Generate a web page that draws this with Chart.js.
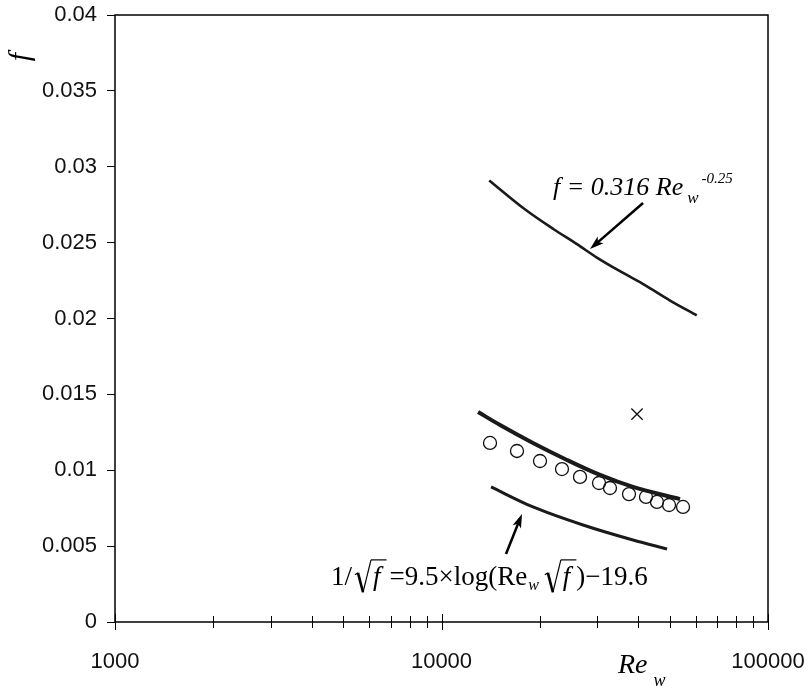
<!DOCTYPE html>
<html>
<head>
<meta charset="utf-8">
<script src="https://cdn.jsdelivr.net/npm/chart.js@4/dist/chart.umd.min.js"></script>
<style>
  html, body { margin: 0; padding: 0; background: #fff; }
  #wrap { width: 811px; height: 688px; }
</style>
</head>
<body>
<div id="wrap"><canvas id="frictionChart" width="811" height="688"></canvas></div>
<script>
// f = 0.316 Re^-0.25 line
const reBlasius = [14000, 18000, 22000, 26000, 30000, 36000, 42000, 50000, 60500];
const fBlasius = [0.0291, 0.0272, 0.0259, 0.0249, 0.0240, 0.0230, 0.0222, 0.0212, 0.0202];

// thick line through the circles
const reModel = [12940, 15110, 19060, 24230, 30590, 38600, 53770];
const fModel = [0.01384, 0.01298, 0.0118, 0.01068, 0.00969, 0.0089, 0.0081];

// 1/sqrt(f) = 9.5 log(Re sqrt(f)) - 19.6
const reLog = [14180, 19060, 27130, 38600, 49070];
const fLog = [0.0089, 0.00758, 0.00639, 0.0054, 0.00481];

// measured points (circles)
const reMeasured = [14080, 17030, 20030, 23390, 26560, 30370, 32810, 37520, 42290, 45710, 49760, 54920];
const fMeasured = [0.0118, 0.01127, 0.01061, 0.01008, 0.00956, 0.00916, 0.00883, 0.00843, 0.00824, 0.00791, 0.00771, 0.00758];

// single cross
const reCross = [39700];
const fCross = [0.0137];

const xLabelValues = [1000, 10000, 100000];
const yMin = 0, yMax = 0.04, yStep = 0.005;

const pts = (xs, ys) => xs.map((x, i) => ({ x: x, y: ys[i] }));

const SERIF = '"Liberation Serif", "DejaVu Serif", serif';
const SANS = '"Liberation Sans", Arial, sans-serif';

function arrow(ctx, x1, y1, x2, y2) {
    const a = Math.atan2(y2 - y1, x2 - x1);
    const len = 14, w = 4.5;
    ctx.beginPath();
    ctx.moveTo(x1, y1);
    ctx.lineTo(x2 - Math.cos(a) * len * 0.7, y2 - Math.sin(a) * len * 0.7);
    ctx.lineWidth = 2.5;
    ctx.stroke();
    ctx.beginPath();
    ctx.moveTo(x2, y2);
    ctx.lineTo(x2 - Math.cos(a) * len + Math.sin(a) * w, y2 - Math.sin(a) * len - Math.cos(a) * w);
    ctx.lineTo(x2 - Math.cos(a) * len * 0.75, y2 - Math.sin(a) * len * 0.75);
    ctx.lineTo(x2 - Math.cos(a) * len - Math.sin(a) * w, y2 - Math.sin(a) * len + Math.cos(a) * w);
    ctx.closePath();
    ctx.fill();
}

// draws a radical over italic f, returns the new x
function sqrtF(ctx, x, base, size) {
    const top = base - size * 0.93;
    const bot = base + size * 0.27;
    ctx.lineJoin = 'miter';
    ctx.beginPath();
    ctx.moveTo(x + 1, base - size * 0.38);
    ctx.lineTo(x + 4, base - size * 0.45);
    ctx.lineWidth = 1.2;
    ctx.stroke();
    ctx.beginPath();
    ctx.moveTo(x + 4, base - size * 0.45);
    ctx.lineTo(x + 9, bot);
    ctx.lineWidth = 2.6;
    ctx.stroke();
    ctx.beginPath();
    ctx.moveTo(x + 9, bot);
    ctx.lineTo(x + 17, top);
    ctx.lineWidth = 1.2;
    ctx.stroke();
    x += 17;
    ctx.font = 'italic ' + size + 'px ' + SERIF;
    ctx.fillText('f', x + 2, base);
    const fw = ctx.measureText('f').width + 8;
    ctx.beginPath();
    ctx.moveTo(x, top);
    ctx.lineTo(x + fw, top);
    ctx.lineWidth = 1.2;
    ctx.stroke();
    return x + fw;
}

const decorations = {
    id: 'decorations',
    afterDraw(chart) {
        const ctx = chart.ctx;
        const a = chart.chartArea;
        const xs = chart.scales.x, ys = chart.scales.y;
        ctx.save();
        ctx.strokeStyle = '#000';
        ctx.fillStyle = '#000';

        // frame
        ctx.lineWidth = 1.5;
        ctx.strokeRect(a.left, a.top, a.right - a.left, a.bottom - a.top);

        // x ticks (log decades and minors)
        ctx.lineWidth = 1;
        for (let d = 1000; d <= 100000; d *= 10) {
            for (let m = 1; m <= 9; m++) {
                const v = d * m;
                if (v > 100000) break;
                const px = Math.round(xs.getPixelForValue(v)) + 0.5;
                const major = m === 1;
                ctx.beginPath();
                ctx.moveTo(px, a.bottom - (major ? 8 : 6));
                ctx.lineTo(px, a.bottom + (major ? 8 : 6));
                ctx.stroke();
            }
        }

        // axis titles
        ctx.save();
        ctx.translate(21, 57);
        ctx.rotate(-Math.PI / 2);
        ctx.font = 'italic 30px ' + SERIF;
        ctx.textAlign = 'center';
        ctx.textBaseline = 'middle';
        ctx.fillText('f', 0, 0);
        ctx.restore();

        ctx.textBaseline = 'alphabetic';
        ctx.font = 'italic 28px ' + SERIF;
        ctx.fillText('Re', 618, 673);
        let rw = ctx.measureText('Re').width;
        ctx.font = 'italic 18px ' + SERIF;
        ctx.fillText('w', 618 + rw + 6, 686);

        // annotation 1
        ctx.font = 'italic 26px ' + SERIF;
        let t = 'f = 0.316 Re';
        ctx.fillText(t, 553, 195);
        let tx = 553 + ctx.measureText(t).width + 4;
        ctx.font = 'italic 17px ' + SERIF;
        ctx.fillText('w', tx, 203);
        tx += ctx.measureText('w').width + 3;
        ctx.font = 'italic 15px ' + SERIF;
        ctx.fillText('-0.25', tx, 183);

        arrow(ctx, xs.getPixelForValue(41430), ys.getPixelForValue(0.02761),
                   xs.getPixelForValue(28500), ys.getPixelForValue(0.02458));

        // annotation 2
        const base = 585, size = 27;
        let x = 331;
        ctx.font = size + 'px ' + SERIF;
        ctx.fillText('1/', x, base);
        x += ctx.measureText('1/').width + 2;
        x = sqrtF(ctx, x, base, size);
        ctx.font = size + 'px ' + SERIF;
        t = '=9.5\u00D7log(Re';
        ctx.fillText(t, x + 3, base);
        x += ctx.measureText(t).width + 3;
        ctx.font = 'italic 16px ' + SERIF;
        ctx.fillText('w', x + 1, base + 5);
        x += ctx.measureText('w').width + 6;
        x = sqrtF(ctx, x, base, size);
        ctx.font = size + 'px ' + SERIF;
        ctx.fillText(')\u221219.6', x, base);

        arrow(ctx, xs.getPixelForValue(15760), ys.getPixelForValue(0.00448),
                   xs.getPixelForValue(17640), ys.getPixelForValue(0.00712));

        ctx.restore();
    }
};

const lineSet = (data, width) => ({
    data: data,
    showLine: true,
    borderColor: '#1a1a1a',
    borderWidth: width,
    pointRadius: 0,
    cubicInterpolationMode: 'monotone',
    fill: false
});

new Chart(document.getElementById('frictionChart'), {
    type: 'scatter',
    data: {
        datasets: [
            lineSet(pts(reBlasius, fBlasius), 2.6),
            lineSet(pts(reModel, fModel), 4),
            lineSet(pts(reLog, fLog), 3),
            {
                data: pts(reMeasured, fMeasured),
                pointStyle: 'circle',
                pointRadius: 6.5,
                borderColor: '#111',
                borderWidth: 1.3,
                backgroundColor: 'rgba(0,0,0,0)'
            },
            {
                data: pts(reCross, fCross),
                pointStyle: 'crossRot',
                pointRadius: 8,
                borderColor: '#111',
                borderWidth: 1.3
            }
        ]
    },
    options: {
        responsive: false,
        animation: false,
        layout: { padding: { top: 15, right: 43, left: 0, bottom: 0 } },
        plugins: {
            legend: { display: false },
            tooltip: { enabled: false }
        },
        scales: {
            x: {
                type: 'logarithmic',
                min: 1000,
                max: 100000,
                grid: { display: false },
                border: { display: false },
                ticks: {
                    autoSkip: false,
                    maxRotation: 0,
                    padding: 19,
                    color: '#111',
                    font: { family: SANS, size: 22 },
                    callback: v => xLabelValues.includes(v) ? String(v) : ''
                },
                afterFit: s => { s.height = 66; s.paddingLeft = 0; s.paddingRight = 0; }
            },
            y: {
                min: yMin,
                max: yMax,
                grid: { drawOnChartArea: false, drawTicks: true, tickLength: 8, color: '#000', lineWidth: 1 },
                border: { display: false },
                ticks: {
                    stepSize: yStep,
                    padding: 10,
                    color: '#111',
                    font: { family: SANS, size: 22 },
                    callback: v => String(+v.toFixed(3))
                },
                afterFit: s => { s.width = 115; s.paddingTop = 0; s.paddingBottom = 0; }
            }
        }
    },
    plugins: [decorations]
});
</script>
</body>
</html>
